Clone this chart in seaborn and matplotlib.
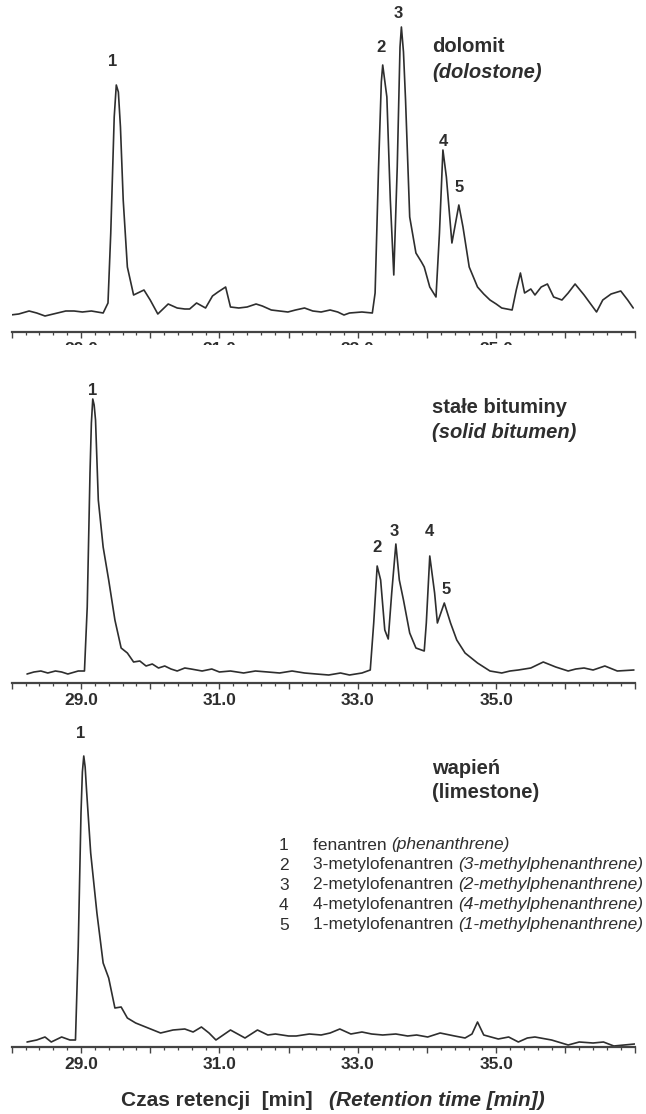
import matplotlib
matplotlib.use("Agg")
import matplotlib.pyplot as plt
from matplotlib.ticker import MultipleLocator, FuncFormatter
import seaborn as sns
import pandas as pd

sns.set_theme(style="white")
plt.rcParams['font.family'] = ['Liberation Sans', 'DejaVu Sans']

# ---------------- data (retention time [min], signal) ----------------
dol_t = [27.98, 28.10, 28.25, 28.36, 28.48, 28.60, 28.78, 28.90, 29.02, 29.15, 29.32, 29.39, 29.43,
         29.48, 29.51, 29.54, 29.57, 29.61, 29.67, 29.76, 29.85, 29.91, 30.00, 30.11, 30.26, 30.39,
         30.50, 30.57, 30.67, 30.80, 30.90, 30.98, 31.09, 31.16, 31.28, 31.40, 31.53, 31.62, 31.75,
         31.99, 32.10, 32.23, 32.35, 32.47, 32.60, 32.71, 32.80, 32.88, 33.06, 33.21, 33.25, 33.30,
         33.34, 33.36, 33.42, 33.47, 33.52, 33.57, 33.61, 33.63, 33.66, 33.69, 33.75, 33.84, 33.92,
         33.96, 34.04, 34.13, 34.18, 34.23, 34.28, 34.36, 34.46, 34.52, 34.61, 34.73, 34.82, 34.91,
         35.00, 35.08, 35.23, 35.29, 35.35, 35.41, 35.50, 35.56, 35.65, 35.74, 35.83, 35.95, 36.04,
         36.14, 36.27, 36.45, 36.54, 36.66, 36.80, 36.90, 36.98]
dol_y = [17, 18, 21, 19, 16, 18, 21, 21, 20, 21, 19, 29, 99,
         215, 247, 240, 205, 132, 65, 37, 40, 42, 32, 18, 28, 24,
         23, 23, 29, 24, 36, 40, 45, 25, 24, 25, 28, 26, 22,
         20, 22, 24, 21, 20, 22, 20, 17, 19, 20, 19, 39, 165,
         250, 267, 235, 132, 57, 165, 285, 305, 280, 232, 115, 79, 70,
         65, 45, 35, 99, 182, 155, 89, 127, 105, 65, 45, 38, 32,
         28, 24, 22, 42, 59, 39, 43, 37, 45, 48, 35, 32, 39,
         48, 37, 20, 32, 38, 41, 32, 24]

bit_t = [28.22, 28.32, 28.42, 28.52, 28.63, 28.72, 28.81, 28.96, 29.05, 29.09, 29.13, 29.15, 29.17,
         29.19, 29.21, 29.25, 29.32, 29.40, 29.49, 29.58, 29.67, 29.76, 29.85, 29.94, 30.03, 30.12,
         30.21, 30.30, 30.39, 30.50, 30.59, 30.75, 30.89, 31.00, 31.16, 31.35, 31.52, 31.70, 31.87,
         32.05, 32.23, 32.40, 32.58, 32.75, 32.88, 33.06, 33.18, 33.23, 33.28, 33.33, 33.39, 33.44,
         33.49, 33.55, 33.60, 33.66, 33.75, 33.84, 33.96, 33.99, 34.04, 34.11, 34.15, 34.25, 34.34,
         34.43, 34.55, 34.73, 34.91, 35.08, 35.20, 35.32, 35.50, 35.68, 35.86, 36.04, 36.15, 36.27,
         36.40, 36.57, 36.75, 36.99]
bit_y = [9, 11, 12, 10, 12, 11, 9, 12, 12, 76, 210, 260, 284,
         278, 263, 183, 136, 103, 63, 35, 30, 21, 22, 17, 19, 15,
         17, 14, 12, 15, 14, 12, 14, 11, 12, 10, 12, 11, 10,
         12, 10, 9, 8, 10, 8, 10, 13, 60, 117, 103, 53, 44,
         90, 139, 103, 83, 50, 35, 32, 60, 127, 90, 60, 80, 60,
         43, 30, 20, 12, 10, 12, 13, 15, 21, 16, 12, 14, 15,
         13, 17, 12, 13]

wap_t = [28.22, 28.36, 28.48, 28.57, 28.72, 28.84, 28.92, 28.96, 29.00, 29.02, 29.04, 29.06, 29.08,
         29.14, 29.23, 29.32, 29.40, 29.49, 29.58, 29.67, 29.79, 29.97, 30.15, 30.33, 30.50, 30.62,
         30.74, 30.85, 30.95, 31.16, 31.37, 31.55, 31.70, 31.81, 32.00, 32.11, 32.30, 32.47, 32.60,
         32.74, 32.90, 33.06, 33.20, 33.36, 33.55, 33.72, 33.85, 34.01, 34.19, 34.40, 34.55, 34.65,
         34.73, 34.82, 35.03, 35.18, 35.32, 35.45, 35.56, 35.80, 36.04, 36.20, 36.40, 36.55, 36.70,
         37.00]
wap_y = [5, 7, 10, 5, 10, 7, 7, 100, 234, 275, 291, 280, 257,
         194, 134, 84, 69, 39, 40, 29, 24, 19, 14, 17, 18, 15,
         20, 14, 7, 17, 9, 17, 12, 13, 11, 11, 13, 12, 14,
         18, 13, 15, 13, 12, 13, 11, 12, 10, 14, 11, 9, 13,
         25, 12, 8, 10, 5, 9, 10, 7, 2, 5, 4, 5, 1,
         3]

peak_ids = ["1", "2", "3", "4", "5"]
dol_peak_t = [29.45, 33.33, 33.58, 34.23, 34.46]
dol_peak_y = [270, 285, 318, 190, 144]
bit_peak_t = [29.17, 33.28, 33.52, 34.04, 34.28]
bit_peak_y = [293, 135, 151, 151, 93]
wap_peak_t = [29.00]
wap_peak_y = [314]

titles_pl = ["dolomit", "stałe bituminy", "wapień"]
titles_en = ["(dolostone)", "(solid bitumen)", "(limestone)"]
legend_pl = ["fenantren", "3-metylofenantren", "2-metylofenantren",
             "4-metylofenantren", "1-metylofenantren"]
legend_en = ["(phenanthrene)", "(3-methylphenanthrene)", "(2-methylphenanthrene)",
             "(4-methylphenanthrene)", "(1-methylphenanthrene)"]
tick_labels = ["29.0", "31.0", "33.0", "35.0"]
xlabel_pl = "Czas retencji  [min]"
xlabel_en = "(Retention time [min])"

# ---------------- layout ----------------
W, H = 646, 1114
INK = "#2e2e2e"
fig = plt.figure(figsize=(W / 100, H / 100), dpi=100)
x0, x1 = 11.8, 634.6
panels = [  # (top px, bottom px)
    (0, 332),
    (345, 683),
    (712, 1047),
]
series = [(dol_t, dol_y), (bit_t, bit_y), (wap_t, wap_y)]
peaks = [(dol_peak_t, dol_peak_y), (bit_peak_t, bit_peak_y), (wap_peak_t, wap_peak_y)]
title_y = [(285, 260), (276, 251), (279, 255)]

tick_vals = [float(s) for s in tick_labels]

def fmt(v, pos):
    for s, tv in zip(tick_labels, tick_vals):
        if abs(v - tv) < 1e-6:
            return s
    return ""

axes = []
for i, (top, bot) in enumerate(panels):
    ax = fig.add_axes([x0 / W, 1 - bot / H, (x1 - x0) / W, (bot - top) / H])
    ax.set_facecolor("white")
    t, y = series[i]
    df = pd.DataFrame({"t": t, "y": y})
    sns.lineplot(data=df, x="t", y="y", ax=ax, color=INK, linewidth=1.2,
                 estimator=None, sort=False)
    ax.set_xlim(28.0, 37.0)
    ax.set_ylim(0, bot - top)
    for s in ["left", "right", "top"]:
        ax.spines[s].set_visible(False)
    ax.spines["bottom"].set_color("#444444")
    ax.spines["bottom"].set_linewidth(1.6)
    ax.set_yticks([])
    ax.xaxis.set_major_locator(MultipleLocator(1.0))
    ax.xaxis.set_minor_locator(MultipleLocator(0.2))
    ax.xaxis.set_major_formatter(FuncFormatter(fmt))
    ax.tick_params(axis="x", which="major", direction="out", length=4.5, width=1.0,
                   color="#444444", pad=3, labelsize=12.5, labelcolor=INK, bottom=True)
    ax.tick_params(axis="x", which="minor", direction="out", length=2.5, width=0.9,
                   color="#444444", bottom=True)
    for lab in ax.get_xticklabels():
        lab.set_fontweight("bold")
    ax.set_xlabel("")
    ax.set_ylabel("")
    # peak labels
    pt, py = peaks[i]
    for k, (a, b) in enumerate(zip(pt, py)):
        ax.text(a, b, peak_ids[k], ha="center", va="center", fontsize=12,
                fontweight="bold", color=INK)
    # titles
    ty1, ty2 = title_y[i]
    ax.text(34.07, ty1, titles_pl[i], ha="left", va="center", fontsize=14.5,
            fontweight="bold", color=INK)
    ax.text(34.07, ty2, titles_en[i], ha="left", va="center", fontsize=14.5,
            fontweight="bold", fontstyle=("normal" if i == 2 else "italic"), color=INK)
    axes.append(ax)

# legend in bottom panel
axb = axes[2]
leg_y = [202, 182, 162, 142, 122]
for k in range(5):
    axb.text(31.93, leg_y[k], peak_ids[k], ha="center", va="center", fontsize=12.5,
             color=INK)
    t1 = axb.text(32.35, leg_y[k], legend_pl[k] + " ", ha="left", va="center",
                  fontsize=12.5, color=INK)
    axb.annotate(legend_en[k], xy=(1, 0), xycoords=t1, ha="left", va="bottom",
                 fontsize=12.5, fontstyle="italic", color=INK, annotation_clip=False)

# x-axis title
fig.text(313 / W, 1 - 1100 / H, xlabel_pl, ha="right", va="center",
         fontsize=15, fontweight="bold", color=INK)
fig.text(329 / W, 1 - 1100 / H, xlabel_en, ha="left", va="center",
         fontsize=15, fontweight="bold", fontstyle="italic", color=INK)

fig.savefig("out.png", dpi=100, facecolor="white")
